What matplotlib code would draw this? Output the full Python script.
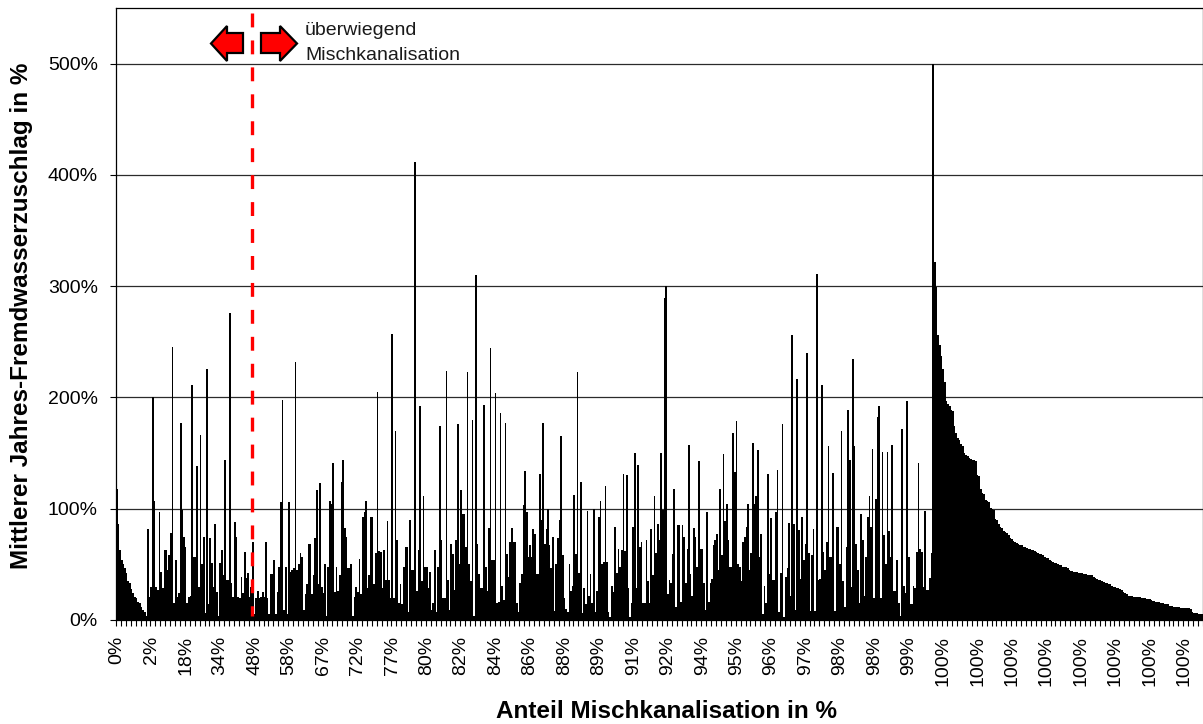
import numpy as np
import matplotlib
matplotlib.use("Agg")
import matplotlib.pyplot as plt
from matplotlib.patches import Polygon
from matplotlib.ticker import FuncFormatter

plt.rcParams['font.family'] = ['Liberation Sans', 'DejaVu Sans']
plt.rcParams['lines.scale_dashes'] = False

# Mittlerer Jahres-Fremdwasserzuschlag (%) je Anlage, aufsteigend nach Anteil Mischkanalisation
zuschlag_a = [
    118, 86, 63, 54, 50, 47, 42, 35, 33, 28,
    24, 21, 20, 16, 15, 12, 9, 7, 4, 82,
    21, 30, 200, 107, 30, 27, 97, 43, 29, 63,
    63, 45, 58, 78, 245, 15, 54, 21, 24, 177,
    99, 75, 66, 15, 21, 22, 211, 57, 57, 138,
    30, 166, 50, 75, 6, 226, 14, 74, 51, 30,
    86, 25, 4, 51, 63, 40, 144, 36, 36, 276,
    33, 21, 88, 75, 21, 20, 39, 24, 61, 38,
    42, 21, 30, 70, 5, 20, 26, 20, 21, 25,
    21, 70, 20, 5, 41, 41, 54, 5, 25, 48,
]
zuschlag_b = [
    106, 198, 9, 48, 5, 106, 43, 45, 47, 232,
    45, 50, 60, 57, 9, 23, 32, 68, 68, 23,
    40, 74, 117, 32, 123, 30, 24, 50, 4, 48,
    107, 104, 141, 25, 48, 26, 40, 124, 144, 83,
    75, 47, 47, 50, 4, 21, 30, 25, 55, 23,
    93, 97, 107, 29, 40, 93, 93, 32, 60, 205,
    62, 61, 29, 63, 36, 89, 36, 20, 257, 20,
    170, 72, 15, 32, 14, 48, 66, 66, 7, 90,
    45, 45, 412, 26, 63, 192, 35, 111, 48, 48,
    29, 43, 9, 15, 63, 7, 48, 174, 72, 20,
]
zuschlag_c = [
    20, 224, 36, 9, 68, 59, 27, 72, 176, 50,
    117, 95, 95, 66, 223, 50, 35, 180, 4, 310,
    68, 41, 29, 29, 193, 48, 26, 83, 244, 54,
    54, 204, 15, 16, 186, 31, 18, 177, 59, 39,
    70, 83, 70, 70, 15, 7, 33, 41, 103, 134,
    97, 57, 67, 57, 82, 77, 41, 41, 131, 90,
    177, 68, 82, 100, 67, 47, 75, 8, 50, 74,
    90, 165, 58, 20, 10, 7, 50, 26, 31, 112,
    59, 223, 42, 124, 6, 29, 14, 98, 22, 41,
    15, 100, 7, 26, 93, 107, 50, 52, 120, 52,
]
zuschlag_d = [
    7, 3, 31, 25, 84, 42, 64, 48, 63, 131,
    62, 130, 29, 3, 15, 84, 150, 29, 139, 66,
    70, 15, 15, 72, 35, 15, 82, 40, 111, 60,
    86, 72, 150, 99, 289, 300, 23, 36, 33, 59,
    118, 12, 85, 85, 16, 85, 75, 33, 64, 157,
    41, 22, 83, 75, 48, 143, 64, 64, 33, 9,
    97, 16, 33, 37, 67, 72, 77, 45, 118, 58,
    149, 89, 104, 72, 48, 48, 168, 133, 179, 50,
    48, 35, 70, 75, 84, 104, 45, 60, 159, 104,
    111, 153, 57, 77, 5, 31, 15, 131, 41, 92,
]
zuschlag_e = [
    36, 36, 97, 135, 7, 42, 176, 3, 39, 47,
    87, 22, 256, 86, 9, 217, 81, 37, 93, 54,
    68, 240, 60, 8, 58, 82, 8, 311, 36, 37,
    211, 61, 45, 70, 156, 57, 57, 132, 8, 84,
    84, 50, 170, 35, 12, 66, 189, 144, 30, 235,
    156, 68, 45, 15, 95, 72, 22, 57, 93, 111,
    84, 154, 20, 109, 182, 192, 20, 151, 76, 50,
    151, 80, 57, 157, 26, 26, 54, 15, 4, 172,
    31, 24, 197, 57, 14, 14, 31, 29, 61, 141,
    64, 61, 30, 98, 27, 27, 38, 60, 500,
]
# reine Mischkanalisation (100 %), absteigend sortiert
zuschlag_f = [
    322, 299, 256, 247, 237, 226, 214, 197, 194, 192,
    189, 188, 174, 168, 164, 162, 158, 156, 150, 148,
    147, 146, 145, 144, 144, 143, 130, 129, 118, 114,
    113, 108, 107, 106, 101, 100, 99, 91, 90, 86,
    84, 83, 80, 79, 78, 76, 74, 73, 71, 70,
    69, 68, 67, 67, 66, 66, 65, 64, 64, 63,
    63, 62, 61, 60, 59, 59, 58, 57, 56, 56,
    54, 53, 52, 51, 51, 50, 49, 49, 48, 48,
    48, 47, 45, 44, 44, 43, 43, 43, 42, 42,
    42, 41, 41, 40, 40, 40, 40, 39, 38, 37,
    36, 36, 35, 34, 33, 33, 32, 32, 31, 30,
    30, 29, 29, 28, 27, 25, 24, 23, 22, 22,
    22, 21, 21, 21, 21, 21, 20, 20, 20, 19,
    19, 19, 18, 17, 17, 16, 16, 16, 15, 15,
    14, 14, 14, 13, 13, 13, 12, 12, 12, 12,
    11, 11, 11, 11, 11, 11, 10, 7, 6, 6,
    6, 5, 5, 5,
]

anteil_labels = ["0%", "2%", "18%", "34%", "48%", "58%", "67%", "72%",
                 "77%", "80%", "82%", "84%", "86%", "88%", "89%", "91%",
                 "92%", "94%", "95%", "96%", "97%", "98%", "98%", "99%",
                 "100%", "100%", "100%", "100%", "100%", "100%", "100%", "100%"]
label_step = 21          # categories between two labelled ticks
grenze_index = 82.7      # border "ueberwiegend Mischkanalisation"

werte = np.array(zuschlag_a + zuschlag_b + zuschlag_c + zuschlag_d
                 + zuschlag_e + zuschlag_f, dtype=float)
n = len(werte)
x = np.arange(n)

W, H = 1203, 724
fig = plt.figure(figsize=(W / 100, H / 100), dpi=100)
ax = fig.add_axes([116 / W, (H - 620) / H, 1087 / W, 612 / H])

ax.bar(x, werte, width=1.0, color='black', linewidth=0, zorder=2)

ax.set_xlim(-0.5, n - 0.5)
ax.set_ylim(0, 550)
ax.set_yticks(np.arange(0, 501, 100))
ax.yaxis.set_major_formatter(FuncFormatter(lambda v, p: f"{v:.0f}%"))
ax.grid(axis='y', color='#2b2b2b', lw=0.9, zorder=1)
ax.grid(axis='x', visible=False)
ax.set_axisbelow(True)

ax.set_xticks(np.arange(len(anteil_labels)) * label_step)
ax.set_xticklabels(anteil_labels, rotation=90)
ax.set_xticks(np.arange(-0.5, n, 3), minor=True)
ax.tick_params(axis='x', which='major', length=0, pad=11.5, labelsize=14)
ax.tick_params(axis='x', which='minor', length=4, width=0.8, direction='out')
ax.tick_params(axis='y', which='major', length=4, width=0.8, direction='out',
               pad=9, labelsize=14)
for sp in ax.spines.values():
    sp.set_color('black')
    sp.set_linewidth(0.9)

# Grenze ueberwiegend Mischkanalisation
ax.plot([grenze_index, grenze_index], [0.992, 0.006], color='red', lw=2.4,
        dashes=(10, 9.4), transform=ax.get_xaxis_transform(), zorder=4,
        solid_capstyle='butt', dash_capstyle='butt')


def px(points):
    return [(px_x / W, 1 - px_y / H) for px_x, px_y in points]


pfeil_links = [(243, 33), (227, 33), (227, 26), (211, 43.5), (227, 61), (227, 53), (243, 53)]
pfeil_rechts = [(261, 33), (280, 33), (280, 26), (297, 43.5), (280, 61), (280, 53), (261, 53)]
for pts in (pfeil_links, pfeil_rechts):
    fig.add_artist(Polygon(px(pts), closed=True, facecolor='#ff0000',
                           edgecolor='black', lw=1.6, transform=fig.transFigure,
                           joinstyle='miter', zorder=5))

fig.text(305 / W, 1 - 35 / H, "überwiegend", fontsize=14, color='#1a1a1a',
         ha='left', va='baseline')
fig.text(305 / W, 1 - 60 / H, "Mischkanalisation", fontsize=14, color='#1a1a1a',
         ha='left', va='baseline')

fig.text(667 / W, 1 - 718 / H, "Anteil Mischkanalisation in %", fontsize=17.5,
         fontweight='bold', ha='center', va='baseline')
fig.text(22 / W, 1 - 316 / H, "Mittlerer Jahres-Fremdwasserzuschlag in %",
         fontsize=17.5, fontweight='bold', rotation=90, ha='center', va='center')

fig.savefig("out.png", dpi=100)
